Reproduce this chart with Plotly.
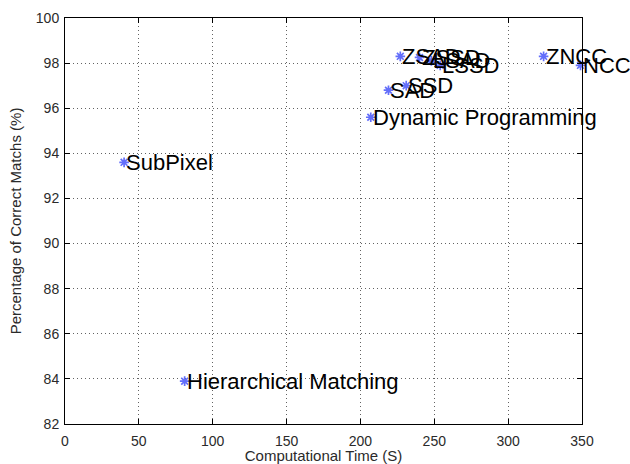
import plotly.graph_objects as go

# Stereo matching methods: run time vs. share of correct matches
methods = ["SubPixel", "Hierarchical Matching", "Dynamic Programming",
           "SAD", "SSD", "ZSAD", "ZSSD", "LSAD", "LSSD", "ZNCC", "NCC"]
time_s = [40, 81, 207, 219, 231, 227, 240, 248, 254, 324, 349]
correct_pct = [93.6, 83.9, 95.6, 96.8, 97.0, 98.3, 98.25, 98.1, 97.9, 98.3, 97.9]

x_ticks = [0, 50, 100, 150, 200, 250, 300, 350]
y_ticks = [82, 84, 86, 88, 90, 92, 94, 96, 98, 100]

tick_font = dict(family="Liberation Sans, Arial", size=14, color="#2a2a2a")
title_font = dict(family="Liberation Sans, Arial", size=15, color="#2a2a2a")
label_font = dict(family="Liberation Sans, Arial", size=22, color="black")

fig = go.Figure()
fig.add_trace(go.Scatter(
    x=time_s, y=correct_pct, mode="markers",
    marker=dict(symbol="asterisk-open", size=8,
                line=dict(color="#0c0c6a", width=1.7)),
    cliponaxis=False, showlegend=False, hoverinfo="skip",
))

for name, xv, yv in zip(methods, time_s, correct_pct):
    fig.add_annotation(x=xv, y=yv, text=name, showarrow=False,
                       xanchor="left", yanchor="middle", xshift=0,
                       font=label_font)

axis_common = dict(
    showline=True, linecolor="black", linewidth=1, mirror="ticks",
    ticks="inside", ticklen=5, tickcolor="black", tickwidth=1,
    showgrid=True, gridcolor="rgba(60,60,60,0.8)", gridwidth=1, griddash="1px,3px",
    zeroline=False, tickfont=tick_font, automargin=False,
)

fig.update_xaxes(range=[0, 350], tickvals=x_ticks, ticklabelstandoff=4,
                 title=dict(text="Computational Time (S)", font=title_font, standoff=4),
                 **axis_common)
fig.update_yaxes(range=[82, 100], tickvals=y_ticks, ticklabelstandoff=2,
                 title=dict(text="Percentage of Correct Matchs (%)", font=title_font, standoff=10),
                 **axis_common)

fig.update_layout(
    width=630, height=464,
    margin=dict(l=65, r=48, t=18, b=40),
    plot_bgcolor="white", paper_bgcolor="white",
)

fig.write_html("out.html")
